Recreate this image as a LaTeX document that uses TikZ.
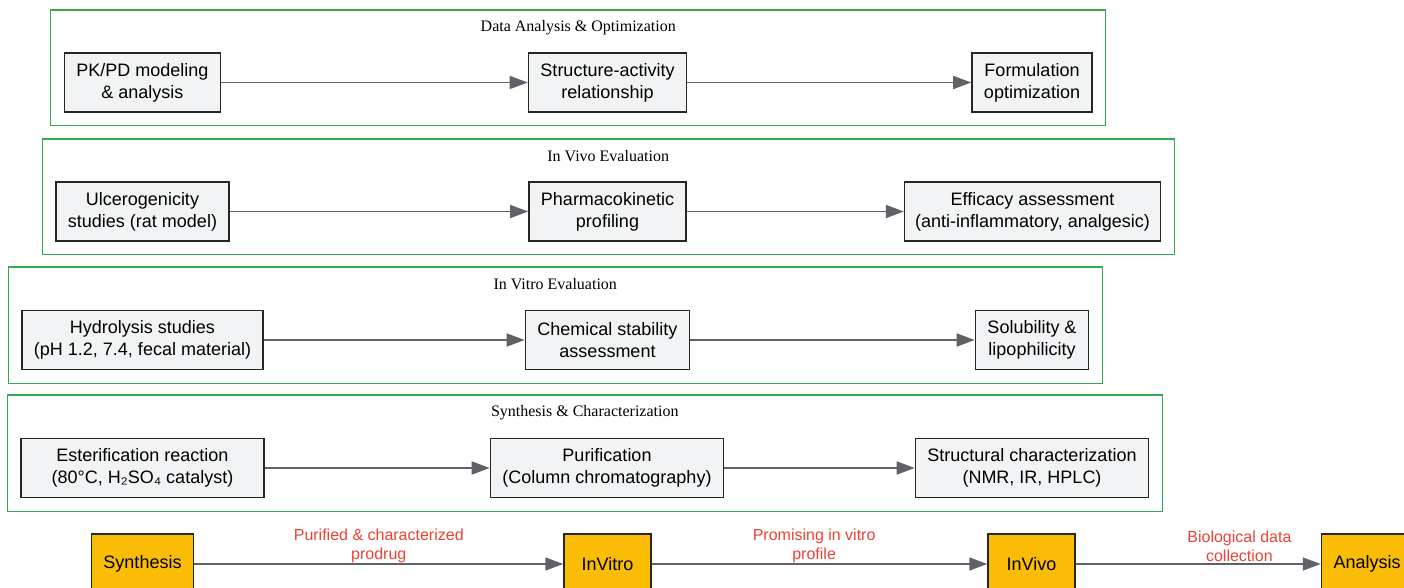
\documentclass[tikz,border=0pt]{standalone}
\usepackage{fontspec}
\setmainfont{Liberation Sans}
\newfontfamily\ttlfont{Liberation Serif}
\usetikzlibrary{fit}
\usetikzlibrary{arrows.meta}
\definecolor{boxgray}{HTML}{F1F3F4}
\definecolor{stagey}{HTML}{FBBC05}
\definecolor{clugreen}{HTML}{34A853}
\definecolor{labred}{HTML}{EA4335}
\definecolor{arrgray}{HTML}{5F6368}
\tikzstyle{B} = [rectangle,draw=black!85,line width=1.5pt,fill=boxgray,align=center,minimum height=59pt,inner xsep=12pt,font=\fontsize{18}{22}\selectfont]
\tikzstyle{Y} = [rectangle,draw=black!85,line width=1.5pt,fill=stagey,minimum height=60pt,minimum width=87pt,inner xsep=12pt,font=\fontsize{18}{22}\selectfont]
\tikzstyle{G} = [rectangle,draw=clugreen,line width=1.2pt,inner sep=13pt]
\tikzstyle{T} = [font=\ttlfont\fontsize{16}{18}\selectfont]
\tikzstyle{R} = [text=labred,align=center,font=\fontsize{16}{19}\selectfont]
\tikzstyle{A} = [draw=arrgray,line width=1.5pt,-{Triangle[length=18pt,width=13pt]}]

\begin{document}
\begin{tikzpicture}[x=1pt,y=-1pt]
	\useasboundingbox (0,0) rectangle (1404,588);
	
	%%%%%%%%%%%%%%% Data Analysis & Optimization
	\node [B] (a1) at(142.5,82.5) {PK/PD modeling\\\& analysis};
	\node [B] (a2) at(607.5,82.5) {Structure-activity\\relationship};
	\node [B] (a3) at(1032,82.5) {Formulation\\optimization};
	\draw [A] (a1) -- (a2) ;
	\draw [A] (a2) -- (a3) ;
	\coordinate (ta) at(578,23);
	\node [G,fit=(a1)(a3)(ta)] (ca) {};
	\node [T] (tta) at([yshift=-18pt]ca.north) {Data Analysis \& Optimization};
	%%%%%%%%%%%%%%% In Vivo
	\node [B] (v1) at(142.5,211.5) {Ulcerogenicity\\studies (rat model)};
	\node [B] (v2) at(607.5,211.5) {Pharmacokinetic\\profiling};
	\node [B,inner xsep=10.5pt] (v3) at(1032.5,211.5) {Efficacy assessment\\(anti-inflammatory, analgesic)};
	\draw [A] (v1) -- (v2) ;
	\draw [A] (v2) -- (v3) ;
	\coordinate (tv) at(608,152);
	\node [G,fit=(v1)(v3)(tv)] (cv) {};
	\node [T] (ttv) at([yshift=-18pt]cv.north) {In Vivo Evaluation};
	%%%%%%%%%%%%%%% In Vitro
	\node [B] (t1) at(142.5,340) {Hydrolysis studies\\(pH 1.2, 7.4, fecal material)};
	\node [B] (t2) at(607.5,340) {Chemical stability\\assessment};
	\node [B] (t3) at(1032,340) {Solubility \&\\lipophilicity};
	\draw [A] (t1) -- (t2) ;
	\draw [A] (t2) -- (t3) ;
	\coordinate (tt) at(556,280);
	\node [G,fit=(t1)(t3)(tt)] (ct) {};
	\node [T] (ttt) at([yshift=-18pt]ct.north) {In Vitro Evaluation};
	%%%%%%%%%%%%%%% Synthesis
	\node [B,minimum width=243pt] (s1) at(142.5,468) {Esterification reaction\\(80°C, H₂SO₄ catalyst)};
	\node [B] (s2) at(607,468) {Purification\\(Column chromatography)};
	\node [B] (s3) at(1032,468) {Structural characterization\\(NMR, IR, HPLC)};
	\draw [A] (s1) -- (s2) ;
	\draw [A] (s2) -- (s3) ;
	\coordinate (ts) at(584,408);
	\node [G,fit=(s1)(s3)(ts)] (cs) {};
	\node [T] (tts) at([yshift=-18pt]cs.north) {Synthesis \& Characterization};
	%%%%%%%%%%%%%%% main flow
	\node [Y] (syn) at(142.5,564) {Synthesis};
	\node [Y] (vit) at(607.5,564) {InVitro};
	\node [Y] (viv) at(1031.5,564) {InVivo};
	\node [Y] (ana) at(1367,564) {Analysis};
	\draw [A] (syn) -- node [R,yshift=18pt] (l1) {Purified \& characterized\\prodrug} (vit) ;
	\draw [A] (vit) -- node [R,pos=0.484,yshift=18pt] (l2) {Promising in vitro\\profile} (viv) ;
	\draw [A] (viv) -- node [R,pos=0.668,yshift=18pt] (l3) {Biological data\\collection} (ana) ;
	
\end{tikzpicture}
\end{document}
